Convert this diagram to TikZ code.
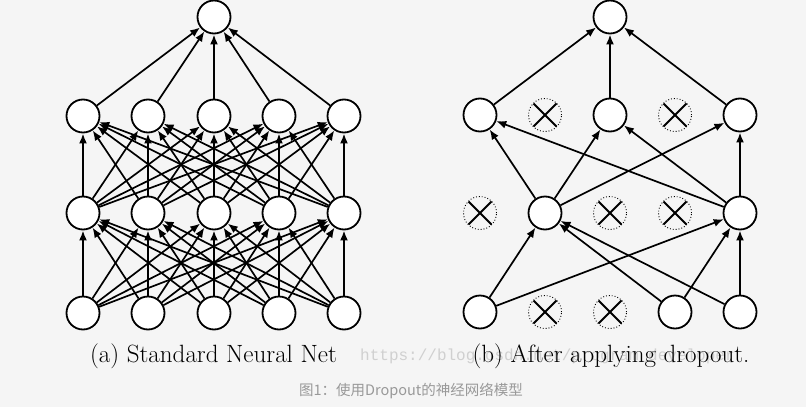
\documentclass[tikz,border=0pt]{standalone}
\usepackage{fontspec}
\newfontfamily\cjk{Noto Sans CJK SC}
\newfontfamily\wmfont{Liberation Mono}
\usetikzlibrary{arrows.meta}
\definecolor{bgc}{HTML}{F5F5F5}
\definecolor{wmc}{HTML}{D0D0D0}
\definecolor{capc}{HTML}{999999}
\begin{document}
\begin{tikzpicture}[x=1pt,y=-1pt,
  neuron/.style={circle, draw, line width=1.8pt, fill=white, minimum size=33pt, inner sep=0pt},
  dropped/.style={circle, draw, dotted, line width=0.9pt, minimum size=33pt, inner sep=0pt,
    path picture={\draw[solid, line width=1.8pt]
      ([shift={(-11.5pt,-11.5pt)}]path picture bounding box.center) -- ([shift={(11.5pt,11.5pt)}]path picture bounding box.center)
      ([shift={(-11.5pt,11.5pt)}]path picture bounding box.center) -- ([shift={(11.5pt,-11.5pt)}]path picture bounding box.center);}},
  edge/.style={line width=1.7pt, -{Latex[length=10pt,width=8pt]}},
  vedge/.style={line width=2.6pt, -{Latex[length=10pt,width=8pt]}},
  captxt/.style={font=\fontsize{25}{28}\selectfont, anchor=base, inner sep=0pt}
]
\fill[bgc] (0,0) rectangle (806,407);
\useasboundingbox (0,0) rectangle (806,407);

% ---------- panel (a) ----------
\foreach \i/\x in {1/83,2/148,3/214,4/279,5/344}{
  \node[neuron] (ab\i) at (\x,313) {};
  \node[neuron] (am\i) at (\x,213) {};
  \node[neuron] (ah\i) at (\x,116) {};
}
\node[neuron] (ao) at (214,17) {};
\foreach \i in {1,...,5}{
  \foreach \j in {1,...,5}{
    \ifnum\i=\j
      \draw[vedge] (ab\i) -- (am\j);
      \draw[vedge] (am\i) -- (ah\j);
    \else
      \draw[edge] (ab\i) -- (am\j);
      \draw[edge] (am\i) -- (ah\j);
    \fi
  }
}
\foreach \i in {1,2,4,5}{\draw[edge] (ah\i) -- (ao);}
\draw[vedge] (ah3) -- (ao);

% ---------- panel (b) ----------
\node[neuron] (bb1) at (480,312) {};
\node[dropped] (bb2) at (545,312) {};
\node[dropped] (bb3) at (610,312) {};
\node[neuron] (bb4) at (675,312) {};
\node[neuron] (bb5) at (740,312) {};
\node[dropped] (bm1) at (480,213) {};
\node[neuron] (bm2) at (545,213) {};
\node[dropped] (bm3) at (610,213) {};
\node[dropped] (bm4) at (675,213) {};
\node[neuron] (bm5) at (740,213) {};
\node[neuron] (bh1) at (480,115) {};
\node[dropped] (bh2) at (545,115) {};
\node[neuron] (bh3) at (610,115) {};
\node[dropped] (bh4) at (675,115) {};
\node[neuron] (bh5) at (740,115) {};
\node[neuron] (bo) at (610,17) {};

\foreach \a in {bb1,bb4}{\draw[edge] (\a) -- (bm2); \draw[edge] (\a) -- (bm5);}
\draw[edge] (bb5) -- (bm2);
\draw[vedge] (bb5) -- (bm5);
\foreach \b in {bh1,bh3,bh5}{\draw[edge] (bm2) -- (\b);}
\draw[edge] (bm5) -- (bh1);
\draw[edge] (bm5) -- (bh3);
\draw[vedge] (bm5) -- (bh5);
\draw[edge] (bh1) -- (bo);
\draw[vedge] (bh3) -- (bo);
\draw[edge] (bh5) -- (bo);

% ---------- captions ----------
\node[anchor=base west, inner sep=0pt, text=wmc, font=\wmfont\fontsize{16}{18}\selectfont] (wm) at (360,360) {https://blog.csdn.net/program\_developer};
\node[captxt] (capa) at (213.5,362) {(a) Standard Neural Net};
\node[captxt] (capb) at (611,362) {(b) After applying dropout.};
\node[anchor=base, inner sep=0pt, text=capc, font=\cjk\fontsize{14.5}{17}\selectfont] (capc) at (411,395) {图1：使用Dropout的神经网络模型};
\end{tikzpicture}
\end{document}
